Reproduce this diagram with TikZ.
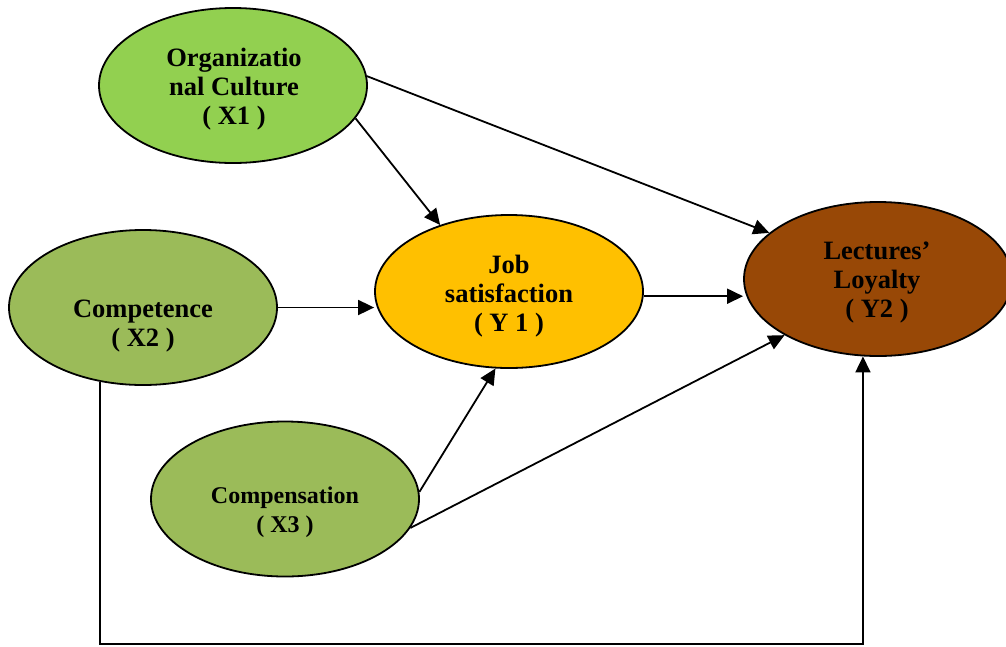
\documentclass[tikz,border=0pt]{standalone}
\usepackage{fontspec}
\setmainfont{Liberation Serif}
\usetikzlibrary{shapes.geometric,arrows.meta}
\definecolor{xone}{HTML}{92D050}
\definecolor{xtwo}{HTML}{9BBB59}
\definecolor{yone}{HTML}{FFC000}
\definecolor{ytwo}{HTML}{984806}
\tikzset{
  var/.style={ellipse,draw=black,line width=1.8pt,minimum width=268pt,minimum height=155pt,inner sep=0pt},
  lbl/.style={font=\bfseries\fontsize{26.5}{29}\selectfont,align=center,inner sep=0pt},
  lbls/.style={font=\bfseries\fontsize{24}{29}\selectfont,align=center,inner sep=0pt},
  arr/.style={line width=1.8pt,-{Triangle[length=16pt,width=15pt]}},
}
\begin{document}
\begin{tikzpicture}[x=1pt,y=-1pt]
\useasboundingbox (0,0) rectangle (1006,646);
\begin{scope}
\clip (0,0) rectangle (1006,646);
\node[var,fill=xone] (x1) at (233,85.5) {};
\node[var,fill=xtwo] (x2) at (143,307.5) {};
\node[var,fill=xtwo] (x3) at (285,499) {};
\node[var,fill=yone,minimum height=153pt] (y1) at (509,291.5) {};
\node[var,fill=ytwo,minimum height=154pt] (y2) at (878,279) {};
\end{scope}
\node[lbl] (t1) at (234,89) {Organizatio\\nal Culture\\( X1 )};
\node[lbl] (t2) at (143,326) {Competence\\( X2 )};
\node[lbls] (t3) at (285,512) {Compensation\\( X3 )};
\node[lbl] (t4) at (509,296) {Job\\satisfaction\\( Y 1 )};
\node[lbl] (t5) at (877,283) {Lectures’\\Loyalty\\( Y2 )};
\coordinate (bot) at (0,644);
\draw[arr] (x1.-15) -- (y1.136);
\draw[arr] (x1.4) -- (y2.157);
\draw[arr] (x2.east) -- (y1.west |- x2.east);
\draw[arr] (y1.-2) -- (y1.-2 -| y2.west);
\draw[arr] (x3.3) -- (y1.260);
\draw[arr] (x3.-13) -- (y2.211);
\draw[arr] (x2.240) -- (x2.240 |- bot) -| (y2.259);
\end{tikzpicture}
\end{document}
